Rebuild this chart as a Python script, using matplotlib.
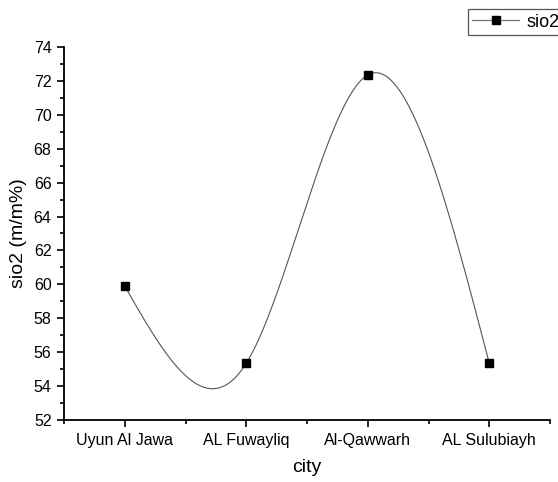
import numpy as np
import matplotlib
matplotlib.use("Agg")
import matplotlib.pyplot as plt
from matplotlib.ticker import MultipleLocator

plt.rcParams['font.family'] = ['Liberation Sans', 'DejaVu Sans']

cities = ["Uyun Al Jawa", "AL Fuwayliq", "Al-Qawwarh", "AL Sulubiayh"]
sio2 = [59.9, 55.35, 72.35, 55.35]


def natural_spline(x, y, xs):
    # plain natural cubic spline, solved with numpy
    x = np.asarray(x, float)
    y = np.asarray(y, float)
    n = len(x)
    h = np.diff(x)
    A = np.zeros((n, n))
    b = np.zeros(n)
    A[0, 0] = A[-1, -1] = 1
    for i in range(1, n - 1):
        A[i, i - 1] = h[i - 1]
        A[i, i] = 2 * (h[i - 1] + h[i])
        A[i, i + 1] = h[i]
        b[i] = 3 * ((y[i + 1] - y[i]) / h[i] - (y[i] - y[i - 1]) / h[i - 1])
    c = np.linalg.solve(A, b)
    out = np.empty_like(xs)
    for k, t in enumerate(xs):
        i = min(np.searchsorted(x, t, side="right") - 1, n - 2)
        i = max(i, 0)
        bi = (y[i + 1] - y[i]) / h[i] - h[i] * (2 * c[i] + c[i + 1]) / 3
        di = (c[i + 1] - c[i]) / (3 * h[i])
        dx = t - x[i]
        out[k] = y[i] + bi * dx + c[i] * dx ** 2 + di * dx ** 3
    return out


fig = plt.figure(figsize=(5.58, 4.82), dpi=100)
ax = fig.add_axes([0.1147, 0.1286, 0.871, 0.774])

xpos = np.arange(1, len(cities) + 1)
xs = np.linspace(1, len(cities), 300)
ax.plot(xs, natural_spline(xpos, sio2, xs), color="#555555", lw=0.8)
ax.plot(xpos, sio2, linestyle="none", marker="s", ms=5.5, color="black")

# legend entry
legend_handle, = ax.plot([], [], color="#777777", lw=0.9, marker="s", ms=5.5,
                         mfc="black", mec="black", label="sio2")
leg = fig.legend(handles=[legend_handle], loc="upper left",
                 bbox_to_anchor=(0.838, 0.981), fancybox=False,
                 framealpha=1, edgecolor="#555555", fontsize=13,
                 handlelength=2.6, borderpad=0.25, handletextpad=0.4,
                 borderaxespad=0)
leg.get_frame().set_linewidth(0.9)

ax.set_xlim(0.5, 4.5)
ax.set_ylim(52, 74)
ax.set_xticks(xpos)
ax.set_xticklabels(cities)
ax.xaxis.set_minor_locator(MultipleLocator(0.5))
ax.yaxis.set_major_locator(MultipleLocator(2))
ax.yaxis.set_minor_locator(MultipleLocator(1))
ax.tick_params(which="major", direction="out", length=5, width=1.2,
               labelsize=11.5, color="black", pad=4)
ax.tick_params(which="minor", direction="out", length=3, width=1.2)

ax.spines["top"].set_visible(False)
ax.spines["right"].set_visible(False)
ax.spines["left"].set_linewidth(1.3)
ax.spines["bottom"].set_linewidth(1.3)

ax.set_xlabel("city", fontsize=14, labelpad=8)
ax.set_ylabel("sio2 (m/m%)", fontsize=14, labelpad=5)

fig.savefig("out.png", dpi=100)
